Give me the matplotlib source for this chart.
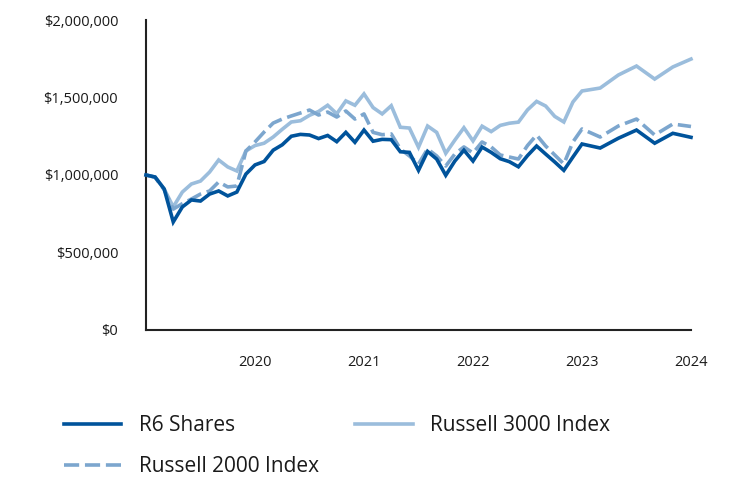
import matplotlib
matplotlib.use("Agg")
import matplotlib.pyplot as plt
from matplotlib.ticker import FuncFormatter

plt.rcParams['font.family'] = ['Open Sans', 'DejaVu Sans']

# Monthly points from 2019 through 2022, then every two months in 2023
dates = [2019 + m / 12 for m in range(49)] + [2023 + m / 12 for m in (2, 4, 6, 8, 10, 12)]

r6_shares = [
    1000000, 987000, 910000, 697000, 794000, 839000, 832000, 877000, 897000, 865000,
    890000, 1006000, 1065000, 1087000, 1160000, 1195000, 1250000, 1262000, 1258000, 1235000,
    1255000, 1215000, 1275000, 1211000, 1290000, 1218000, 1230000, 1228000, 1150000, 1146000,
    1030000, 1152000, 1103000, 998000, 1090000, 1160000, 1090000, 1180000, 1146000, 1105000,
    1086000, 1053000, 1125000, 1187000, 1135000, 1084000, 1030000, 1116000, 1200000,
    1174000, 1237000, 1290000, 1205000, 1269000, 1243000,
]
russell_3000 = [
    1000000, 987000, 910000, 794000, 890000, 942000, 961000, 1019000, 1097000, 1052000,
    1026000, 1155000, 1190000, 1205000, 1245000, 1295000, 1342000, 1350000, 1385000, 1410000,
    1450000, 1395000, 1478000, 1450000, 1523000, 1435000, 1394000, 1447000, 1308000, 1303000,
    1179000, 1316000, 1275000, 1140000, 1225000, 1305000, 1220000, 1315000, 1280000, 1320000,
    1334000, 1341000, 1420000, 1475000, 1445000, 1378000, 1342000, 1471000, 1542000,
    1561000, 1645000, 1703000, 1619000, 1697000, 1748000,
]
russell_2000 = [
    1000000, 985000, 905000, 780000, 815000, 845000, 877000, 897000, 955000, 923000,
    929000, 1155000, 1213000, 1277000, 1335000, 1361000, 1381000, 1400000, 1419000, 1387000,
    1406000, 1374000, 1413000, 1361000, 1394000, 1275000, 1260000, 1265000, 1168000, 1123000,
    1071000, 1168000, 1123000, 1058000, 1135000, 1181000, 1142000, 1213000, 1181000, 1129000,
    1116000, 1103000, 1190000, 1258000, 1187000, 1129000, 1071000, 1213000, 1297000,
    1245000, 1316000, 1361000, 1258000, 1329000, 1313000,
]
series_names = ["R6 Shares", "Russell 3000 Index", "Russell 2000 Index"]
year_ticks = [2020, 2021, 2022, 2023, 2024]
y_ticks = [0, 500000, 1000000, 1500000, 2000000]

c_dark = "#00539B"
c_light = "#9BBDDC"
c_dash = "#7CA6CE"
txt = "#1a1a1a"

fig = plt.figure(figsize=(7.32, 4.8), dpi=100)
ax = fig.add_axes([146 / 732, 1 - 330 / 480, (691 - 146) / 732, 310 / 480])

lw = 2.6
l3, = ax.plot(dates, russell_3000, color=c_light, lw=lw, label=series_names[1],
              solid_joinstyle='miter', clip_on=False, zorder=2)
l2, = ax.plot(dates, russell_2000, color=c_dash, lw=lw, label=series_names[2],
              linestyle=(0, (4.2, 1.6)), clip_on=False, zorder=3)
l1, = ax.plot(dates, r6_shares, color=c_dark, lw=lw, label=series_names[0],
              solid_joinstyle='miter', clip_on=False, zorder=4)

ax.set_xlim(2019, 2024)
ax.set_ylim(0, 2000000)
ax.set_xticks(year_ticks)
ax.set_xticklabels([str(y) for y in year_ticks])
ax.set_yticks(y_ticks)
ax.yaxis.set_major_formatter(FuncFormatter(lambda v, p: "${:,.0f}".format(v)))
ax.tick_params(axis='both', length=0, labelsize=10.5, colors=txt)
ax.tick_params(axis='y', pad=20)
ax.tick_params(axis='x', pad=18)
for s in ('top', 'right'):
    ax.spines[s].set_visible(False)
for s in ('left', 'bottom'):
    ax.spines[s].set_color('#222222')
    ax.spines[s].set_linewidth(1.5)

leg = fig.legend([l1, l2, l3], [series_names[0], series_names[2], series_names[1]],
                 ncol=2, loc='upper left', bbox_to_anchor=(64 / 732, 1 - 415 / 480),
                 frameon=False, fontsize=15, handlelength=2.75, handletextpad=0.85,
                 columnspacing=1.75, labelspacing=0.97, borderaxespad=0, borderpad=0)
for t in leg.get_texts():
    t.set_color(txt)

fig.savefig("out.png", dpi=100)
